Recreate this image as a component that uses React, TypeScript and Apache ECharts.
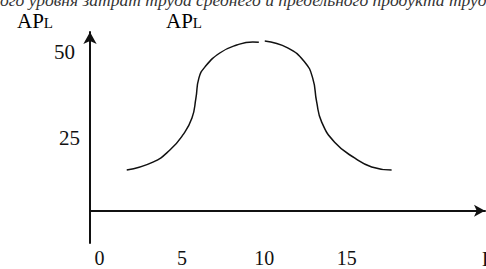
import React, { useEffect, useRef } from "react";
import * as echarts from "echarts";

// Data
const xTickValues = [0, 5, 10, 15];
const yTickValues = [25, 50];
const leftCurve: [number, number][] = [
  [1.65, 15.7], [3.24, 18.0], [4.27, 21.5], [5.06, 25.9], [5.61, 30.8],
  [5.85, 36.6], [6.03, 42.4], [6.39, 45.6], [7.3, 49.7], [8.33, 52.0],
  [9.3, 52.9], [9.67, 52.8],
];
const rightCurve: [number, number][] = [
  [10.03, 53.2], [11.42, 51.2], [12.45, 47.1], [12.94, 42.4], [13.18, 35.5],
  [13.48, 29.7], [14.27, 23.8], [15.48, 19.2], [16.52, 16.6], [17.73, 15.7],
];
const headerText = "ого уровня затрат труда среднего и предельного продукта труда";
const axisTitle = "AP";
const axisTitleSub = "L";
const xAxisName = "L";

const SERIF = "'Liberation Serif', 'DejaVu Serif', serif";
const INK = "#111";

export default function App() {
  const ref = useRef<HTMLDivElement>(null);
  useEffect(() => {
    document.body.style.margin = "0";
    if (!ref.current) return;
    const chart = echarts.init(ref.current, null, { renderer: "svg" });
    const titleRich = {
      a: { fontFamily: SERIF, fontSize: 21, color: INK, verticalAlign: "bottom" },
      b: { fontFamily: SERIF, fontSize: 15, color: INK, verticalAlign: "bottom", padding: [0, 0, 1, 0] },
    };
    chart.setOption({
      animation: false,
      backgroundColor: "#fff",
      grid: {
        left: 90,
        right: 1,
        top: 32,
        bottom: 26,
        containLabel: false,
        outerBoundsMode: "none",
      },
      xAxis: {
        type: "value",
        min: -0.58,
        max: 23.4,
        axisLine: {
          show: true,
          onZero: true,
          onZeroAxisIndex: 1,
          symbol: ["none", "arrow"],
          symbolSize: [9, 11],
          lineStyle: { color: INK, width: 2 },
        },
        axisTick: { show: false },
        splitLine: { show: false },
        axisLabel: {
          customValues: xTickValues,
          margin: 5,
          fontFamily: SERIF,
          fontSize: 20,
          lineHeight: 20,
          color: INK,
        },
      },
      yAxis: [
        {
          type: "value",
          min: -5.5,
          max: 55.8,
          axisLine: {
            show: true,
            onZero: false,
            symbol: ["none", "arrow"],
            symbolSize: [10, 12],
            lineStyle: { color: INK, width: 2 },
          },
          axisTick: { show: false },
          splitLine: { show: false },
          axisLabel: {
            customValues: yTickValues,
            margin: 10,
            formatter: (v: number) => (v === 50 ? "{f|" + v + "}" : "{t|" + v + "}"),
            rich: {
              f: { fontFamily: SERIF, fontSize: 21, color: INK, padding: [0, 5, 0, 0] },
              t: { fontFamily: SERIF, fontSize: 21, color: INK },
            },
          },
        },
        {
          type: "value",
          show: false,
          min: -32.3,
          max: 178.7,
        },
      ],
      graphic: [
        {
          type: "text",
          x: 0,
          y: -9,
          style: {
            text: headerText,
            font: "italic 17.5px " + SERIF,
            fill: "#333",
          },
        },
        {
          type: "text",
          x: 17,
          y: 10,
          style: {
            text: "{a|" + axisTitle + "}{b|" + axisTitleSub + "}",
            rich: titleRich,
          },
        },
        {
          type: "text",
          x: 166,
          y: 10,
          style: {
            text: "{a|" + axisTitle + "}{b|" + axisTitleSub + "}",
            rich: titleRich,
          },
        },
        {
          type: "text",
          x: 482,
          y: 249,
          style: { text: xAxisName, font: "20px " + SERIF, fill: INK },
        },
      ],
      series: [
        {
          type: "line",
          data: leftCurve,
          showSymbol: false,
          smooth: 0.5,
          lineStyle: { color: INK, width: 1.5 },
        },
        {
          type: "line",
          data: rightCurve,
          showSymbol: false,
          smooth: 0.5,
          lineStyle: { color: INK, width: 1.5 },
        },
      ],
    });
    return () => chart.dispose();
  }, []);
  return <div ref={ref} style={{ width: 486, height: 269 }} />;
}
